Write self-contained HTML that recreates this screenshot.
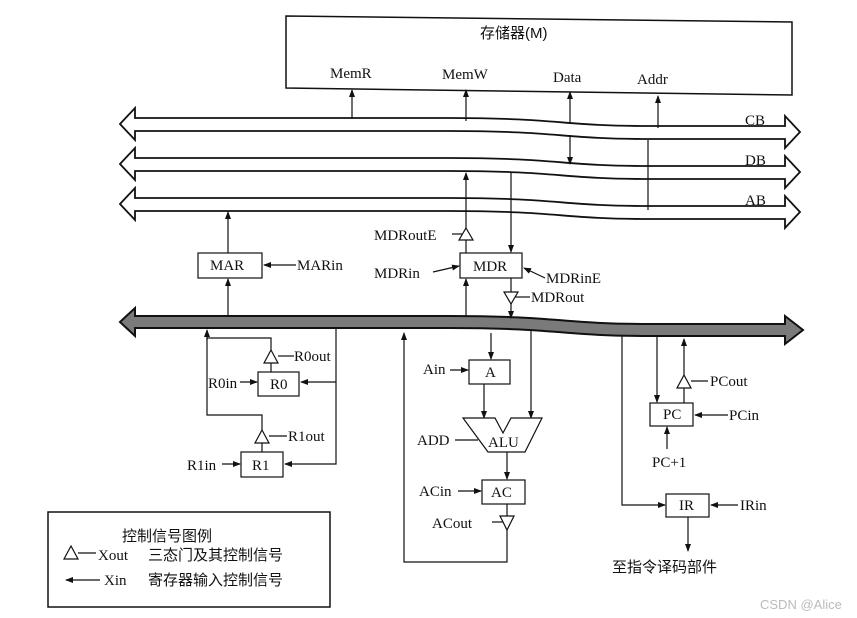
<!DOCTYPE html>
<html><head><meta charset="utf-8"><style>
body{margin:0;background:#fff;}
svg{display:block;font-family:"Liberation Serif","Noto Serif CJK SC",serif;}
text{font-size:15px;fill:#111;}
.cj{font-family:"Liberation Sans","Noto Sans CJK SC",sans-serif;font-size:15px;}
</style></head><body>
<svg width="857" height="618" viewBox="0 0 857 618" xmlns="http://www.w3.org/2000/svg">
<defs>
<marker id="a" markerWidth="8" markerHeight="8" refX="7" refY="4" orient="auto" markerUnits="userSpaceOnUse"><path d="M0,1 L8,4 L0,7 Z" fill="#111"/></marker>
</defs>
<g stroke="#111" stroke-width="1.3" fill="none">
<path d="M286,16 L792,22 L792,95 L286,88 Z" fill="#fff" stroke-width="1.5"/>
</g>
<text x="480" y="38" class="cj" font-size="16">存储器(M)</text>
<text x="330" y="78">MemR</text>
<text x="442" y="79">MemW</text>
<text x="553" y="82">Data</text>
<text x="637" y="84">Addr</text>
<g stroke="#111" stroke-width="1.8" fill="#fff">
<path id="bus" d="M120,124 L135,108 L135,118 L450,118 C560,118 560,126 650,126 L785,126 L785,116 L800,132 L785,148 L785,139 L650,139 C560,139 560,131 450,131 L135,131 L135,140 Z"/>
<use href="#bus" transform="translate(0,40)"/>
<use href="#bus" transform="translate(0,80)"/>
<path d="M120,322 L135,308 L135,316 L450,316 C560,316 560,324 650,324 L785,324 L785,316 L803,330 L785,344 L785,336 L650,336 C560,336 560,328 450,328 L135,328 L135,336 Z" fill="#7a7a7a" stroke-width="2"/>
</g>
<text x="745" y="125" font-size="16">CB</text>
<text x="745" y="165" font-size="16">DB</text>
<text x="745" y="205" font-size="16">AB</text>
<g stroke="#111" stroke-width="1.2" fill="none">
<line x1="352" y1="119" x2="352" y2="90" marker-end="url(#a)"/>
<line x1="466" y1="121" x2="466" y2="90" marker-end="url(#a)"/>
<line x1="570" y1="124" x2="570" y2="92" marker-end="url(#a)"/>
<line x1="570" y1="135" x2="570" y2="164" marker-end="url(#a)"/>
<line x1="658" y1="128" x2="658" y2="96" marker-end="url(#a)"/>
<line x1="648" y1="140" x2="648" y2="210"/>
<rect x="198" y="253" width="64" height="25" fill="#fff"/>
<line x1="228" y1="253" x2="228" y2="212" marker-end="url(#a)"/>
<line x1="228" y1="317" x2="228" y2="279" marker-end="url(#a)"/>
<line x1="296" y1="265" x2="264" y2="265" marker-end="url(#a)"/>
<rect x="460" y="253" width="62" height="25" fill="#fff"/>
<line x1="466" y1="228" x2="466" y2="173" marker-end="url(#a)"/>
<path d="M466,228 L473,240 L459,240 Z"/>
<line x1="466" y1="240" x2="466" y2="253"/>
<line x1="452" y1="234" x2="462" y2="234"/>
<line x1="511" y1="173" x2="511" y2="252" marker-end="url(#a)"/>
<line x1="466" y1="317" x2="466" y2="279" marker-end="url(#a)"/>
<line x1="433" y1="272" x2="459" y2="266" marker-end="url(#a)"/>
<line x1="545" y1="278" x2="524" y2="268" marker-end="url(#a)"/>
<line x1="511" y1="278" x2="511" y2="292"/>
<path d="M504,292 L518,292 L511,304 Z"/>
<line x1="511" y1="304" x2="511" y2="318" marker-end="url(#a)"/>
<line x1="515" y1="297" x2="530" y2="297"/>
<rect x="258" y="372" width="41" height="24" fill="#fff"/>
<rect x="241" y="452" width="42" height="25" fill="#fff"/>
<path d="M271,350 L278,363 L264,363 Z"/>
<line x1="271" y1="363" x2="271" y2="372"/>
<line x1="278" y1="356" x2="294" y2="356"/>
<path d="M271,350 L271,338 L207,338 L207,415 L262,415 L262,430"/>
<line x1="207" y1="340" x2="207" y2="330" marker-end="url(#a)"/>
<path d="M262,430 L269,443 L255,443 Z"/>
<line x1="262" y1="443" x2="262" y2="452"/>
<line x1="269" y1="436" x2="287" y2="436"/>
<path d="M336,329 L336,464 L285,464" marker-end="url(#a)"/>
<line x1="336" y1="382" x2="301" y2="382" marker-end="url(#a)"/>
<line x1="240" y1="382" x2="257" y2="382" marker-end="url(#a)"/>
<line x1="222" y1="464" x2="240" y2="464" marker-end="url(#a)"/>
<line x1="491" y1="333" x2="491" y2="359" marker-end="url(#a)"/>
<rect x="469" y="360" width="41" height="24" fill="#fff"/>
<line x1="450" y1="370" x2="468" y2="370" marker-end="url(#a)"/>
<line x1="484" y1="384" x2="484" y2="418" marker-end="url(#a)"/>
<line x1="531" y1="330" x2="531" y2="418" marker-end="url(#a)"/>
<path d="M463,418 L495,418 L503,433 L511,418 L542,418 L525,452 L488,452 Z" fill="#fff"/>
<line x1="455" y1="440" x2="478" y2="440"/>
<line x1="507" y1="452" x2="507" y2="479" marker-end="url(#a)"/>
<rect x="482" y="480" width="43" height="24" fill="#fff"/>
<line x1="458" y1="491" x2="481" y2="491" marker-end="url(#a)"/>
<line x1="507" y1="504" x2="507" y2="516"/>
<path d="M500,516 L514,516 L507,530 Z"/>
<line x1="492" y1="522" x2="503" y2="522"/>
<path d="M507,530 L507,562 L404,562 L404,333" marker-end="url(#a)"/>
<line x1="657" y1="336" x2="657" y2="402" marker-end="url(#a)"/>
<rect x="650" y="403" width="43" height="23" fill="#fff"/>
<line x1="684" y1="403" x2="684" y2="388"/>
<path d="M684,375 L691,388 L677,388 Z"/>
<line x1="684" y1="375" x2="684" y2="339" marker-end="url(#a)"/>
<line x1="691" y1="381" x2="708" y2="381"/>
<line x1="728" y1="415" x2="695" y2="415" marker-end="url(#a)"/>
<line x1="667" y1="449" x2="667" y2="427" marker-end="url(#a)"/>
<path d="M622,336 L622,505 L665,505" marker-end="url(#a)"/>
<rect x="666" y="494" width="43" height="23" fill="#fff"/>
<line x1="738" y1="505" x2="711" y2="505" marker-end="url(#a)"/>
<line x1="688" y1="517" x2="688" y2="551" marker-end="url(#a)"/>
<rect x="48" y="512" width="282" height="95" stroke-width="1.5"/>
<path d="M64,559 L71,546 L78,559 Z"/>
<line x1="78" y1="553" x2="96" y2="553"/>
<line x1="100" y1="580" x2="66" y2="580" marker-end="url(#a)"/>
</g>
<g>
<text x="210" y="270" font-size="16">MAR</text>
<text x="297" y="270">MARin</text>
<text x="473" y="271" font-size="16">MDR</text>
<text x="374" y="240">MDRoutE</text>
<text x="374" y="278">MDRin</text>
<text x="546" y="283">MDRinE</text>
<text x="531" y="302">MDRout</text>
<text x="270" y="389">R0</text>
<text x="294" y="361">R0out</text>
<text x="208" y="388">R0in</text>
<text x="252" y="470">R1</text>
<text x="288" y="441">R1out</text>
<text x="187" y="470">R1in</text>
<text x="485" y="377">A</text>
<text x="423" y="374">Ain</text>
<text x="488" y="447">ALU</text>
<text x="417" y="445">ADD</text>
<text x="491" y="497">AC</text>
<text x="419" y="496">ACin</text>
<text x="432" y="528">ACout</text>
<text x="663" y="419">PC</text>
<text x="710" y="386">PCout</text>
<text x="729" y="420">PCin</text>
<text x="652" y="467">PC+1</text>
<text x="679" y="510">IR</text>
<text x="740" y="510">IRin</text>
<text x="612" y="572" class="cj">至指令译码部件</text>
<text x="122" y="541" class="cj">控制信号图例</text>
<text x="98" y="560">Xout</text>
<text x="148" y="560" class="cj">三态门及其控制信号</text>
<text x="104" y="585">Xin</text>
<text x="148" y="585" class="cj">寄存器输入控制信号</text>
<text x="760" y="609" style="fill:#bbb;font-family:'Liberation Sans',sans-serif;font-size:13px">CSDN @Alice</text>
</g>
</svg>
</body></html>
